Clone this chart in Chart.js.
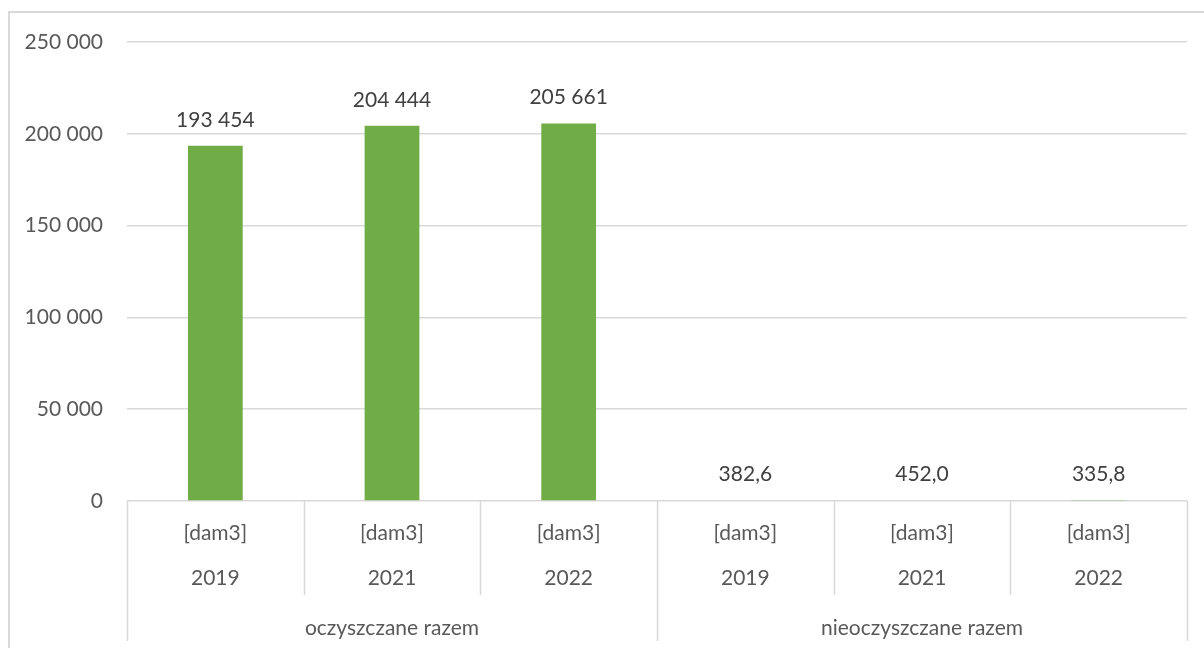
<!DOCTYPE html>
<html>
<head>
<meta charset="utf-8">
<script src="https://cdn.jsdelivr.net/npm/chart.js@4.4.1/dist/chart.umd.min.js"></script>
<style>
  html, body { margin: 0; padding: 0; background: #ffffff; }
  #wrap { position: relative; width: 1204px; height: 648px; overflow: hidden; }
  #frame { position: absolute; left: 8px; top: 11px; width: 1300px; height: 700px;
           border-left: 2px solid #d9d9d9; border-top: 2px solid #d9d9d9; box-sizing: border-box; }
  canvas { position: absolute; left: 0; top: 0; }
</style>
</head>
<body>
<div id="wrap">
  <div id="frame"></div>
  <canvas id="c" width="1204" height="648"></canvas>
</div>
<script>
const categories = ["oczyszczane 2019", "oczyszczane 2021", "oczyszczane 2022", "nieoczyszczane 2019", "nieoczyszczane 2021", "nieoczyszczane 2022"];
const unitLabels = ["[dam3]", "[dam3]", "[dam3]", "[dam3]", "[dam3]", "[dam3]"];
const yearLabels = ["2019", "2021", "2022", "2019", "2021", "2022"];
const groupLabels = ["oczyszczane razem", "nieoczyszczane razem"];
const groupSizes = [3, 3];
const values = [193454, 204444, 205661, 382.6, 452.0, 335.8];
const yTicks = [0, 50000, 100000, 150000, 200000, 250000];

const FONT = "Lato, 'Liberation Sans', sans-serif";
const TEXT = "#595959";
const GRID = "#d9d9d9";

function fmtThousands(v) {
  return String(Math.round(v)).replace(/\B(?=(\d{3})+(?!\d))/g, " ");
}
function fmtValue(v) {
  if (v >= 1000) return fmtThousands(v);
  return v.toFixed(1).replace(".", ",");
}

const multiLevelAxis = {
  id: "multiLevelAxis",
  afterDraw(chart) {
    const ctx = chart.ctx;
    const x = chart.scales.x;
    const area = chart.chartArea;
    const n = categories.length;
    const step = (x.getPixelForValue(1) - x.getPixelForValue(0));
    const bottom = area.bottom;
    ctx.save();
    ctx.strokeStyle = GRID;
    ctx.lineWidth = 1.5;
    let groupEdges = new Set([0]);
    let acc = 0;
    groupSizes.forEach(s => { acc += s; groupEdges.add(acc); });
    for (let i = 0; i <= n; i++) {
      const px = Math.round(x.getPixelForValue(i) - step / 2) + 0.5;
      const yEnd = groupEdges.has(i) ? 641 : 595;
      ctx.beginPath();
      ctx.moveTo(px, bottom);
      ctx.lineTo(px, yEnd);
      ctx.stroke();
    }
    ctx.fillStyle = TEXT;
    ctx.font = "21px " + FONT;
    ctx.textAlign = "center";
    ctx.textBaseline = "middle";
    for (let i = 0; i < n; i++) {
      const cx = x.getPixelForValue(i);
      ctx.fillText(unitLabels[i], cx, 533);
      ctx.fillText(yearLabels[i], cx, 578);
    }
    let start = 0;
    groupSizes.forEach((s, gi) => {
      const cx = (x.getPixelForValue(start) + x.getPixelForValue(start + s - 1)) / 2;
      ctx.fillText(groupLabels[gi], cx, 628);
      start += s;
    });
    const meta = chart.getDatasetMeta(0);
    ctx.fillStyle = "#404040";
    ctx.textBaseline = "alphabetic";
    meta.data.forEach((bar, i) => {
      ctx.fillText(fmtValue(values[i]), bar.x, bar.y - 19);
    });
    ctx.restore();
  }
};

new Chart(document.getElementById("c"), {
  type: "bar",
  data: {
    labels: categories,
    datasets: [{
      data: values,
      backgroundColor: "#70ad47",
      borderWidth: 0,
      categoryPercentage: 1.0,
      barPercentage: 0.31
    }]
  },
  options: {
    responsive: false,
    animation: false,
    events: [],
    layout: { padding: { top: 42, right: 17, bottom: 147, left: 0 } },
    plugins: { legend: { display: false }, tooltip: { enabled: false } },
    scales: {
      x: { display: false, offset: true },
      y: {
        min: 0, max: 250000,
        afterBuildTicks(scale) { scale.ticks = yTicks.map(v => ({ value: v })); },
        afterFit(scale) { scale.width = 127; },
        border: { display: false },
        grid: { color: GRID, lineWidth: 1.5, drawTicks: false },
        ticks: {
          color: TEXT,
          padding: 24,
          font: { family: FONT, size: 21 },
          callback: v => fmtThousands(v)
        }
      }
    }
  },
  plugins: [multiLevelAxis]
});
</script>
</body>
</html>
